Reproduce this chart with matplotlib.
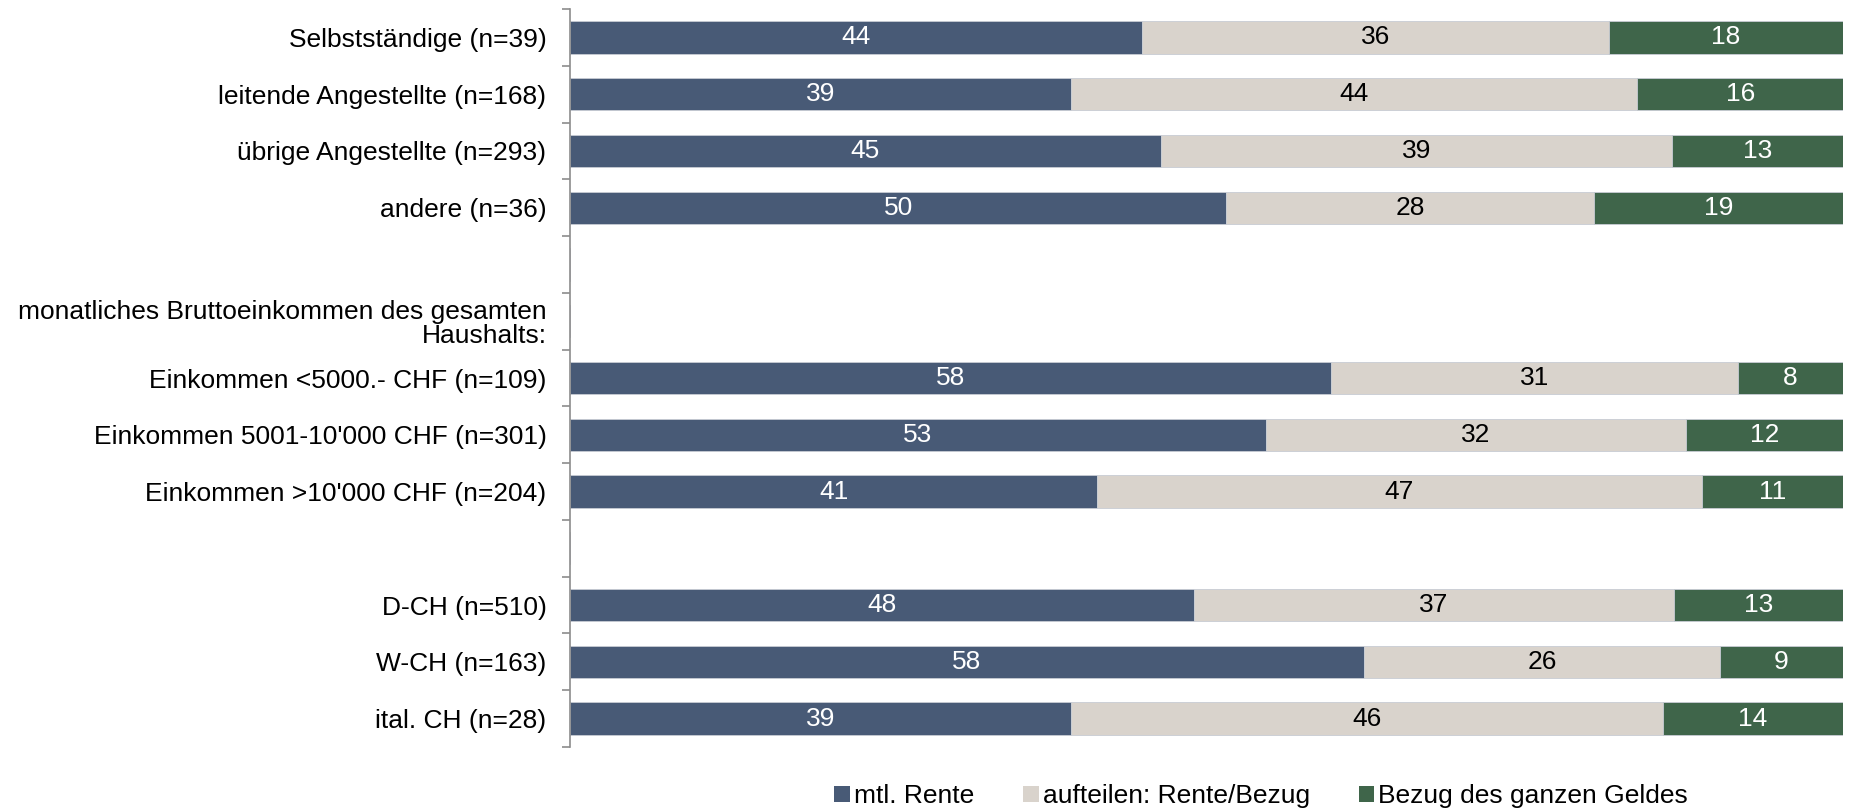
import numpy as np
import matplotlib
matplotlib.use("Agg")
import matplotlib.pyplot as plt
from matplotlib.ticker import FixedLocator, NullLocator

plt.rcParams['font.family'] = ['Liberation Sans', 'DejaVu Sans']

# rows from top to bottom; empty rows are spacers / group headers
labels = [
    "Selbstständige (n=39)",
    "leitende Angestellte (n=168)",
    "übrige Angestellte (n=293)",
    "andere (n=36)",
    "",
    "monatliches Bruttoeinkommen des gesamten\nHaushalts:",
    "Einkommen <5000.- CHF (n=109)",
    "Einkommen 5001-10'000 CHF (n=301)",
    "Einkommen >10'000 CHF (n=204)",
    "",
    "D-CH (n=510)",
    "W-CH (n=163)",
    "ital. CH (n=28)",
]
rente = [44, 39, 45, 50, np.nan, np.nan, 58, 53, 41, np.nan, 48, 58, 39]
aufteilen = [36, 44, 39, 28, np.nan, np.nan, 31, 32, 47, np.nan, 37, 26, 46]
bezug = [18, 16, 13, 19, np.nan, np.nan, 8, 12, 11, np.nan, 13, 9, 14]

series = ["mtl. Rente", "aufteilen: Rente/Bezug", "Bezug des ganzen Geldes"]
colors = ["#485A76", "#D9D3CC", "#3F654A"]
text_colors = ["white", "black", "white"]

data = np.array([rente, aufteilen, bezug], dtype=float)
totals = np.nansum(data, axis=0)
totals[totals == 0] = 1
shares = data / totals  # 100% stacked

fs = 19

fig = plt.figure(figsize=(18.5, 8.1), dpi=100)
ax = fig.add_axes([570 / 1850, 1 - 747 / 810, (1843 - 570) / 1850, (747 - 9) / 810])

y = np.arange(len(labels))
left = np.zeros(len(labels))
for i in range(3):
    w = np.nan_to_num(shares[i])
    ax.barh(y, w, left=left, height=0.57, color=colors[i],
            edgecolor="#c8ccd4", linewidth=0.6, label=series[i])
    for j in range(len(labels)):
        if not np.isnan(data[i, j]):
            ax.text(left[j] + w[j] / 2, y[j], "%d" % data[i, j],
                    ha="center", va="center", fontsize=fs, color=text_colors[i])
    left = left + w

ax.set_xlim(0, 1)
ax.set_ylim(len(labels) - 0.5, -0.5)
ax.set_yticks(y)
ax.set_yticklabels(labels, fontsize=fs, linespacing=1.0)
ax.yaxis.set_minor_locator(FixedLocator(np.arange(-0.5, len(labels), 1)))
ax.tick_params(axis="y", which="major", length=0, pad=17)
ax.tick_params(axis="y", which="minor", length=6, color="#8c8c8c", width=1.2)
ax.xaxis.set_major_locator(NullLocator())
for s in ["top", "right", "bottom"]:
    ax.spines[s].set_visible(False)
ax.spines["left"].set_color("#8c8c8c")
ax.spines["left"].set_linewidth(1.2)

leg = fig.legend(loc="center", bbox_to_anchor=(1261 / 1850, 1 - 796 / 810), ncol=3,
                 frameon=False, fontsize=fs, handlelength=0.6, handleheight=0.55,
                 handletextpad=0.15, columnspacing=1.85)
for h in leg.legend_handles:
    h.set_edgecolor("none")

fig.savefig("out.png", dpi=100)
